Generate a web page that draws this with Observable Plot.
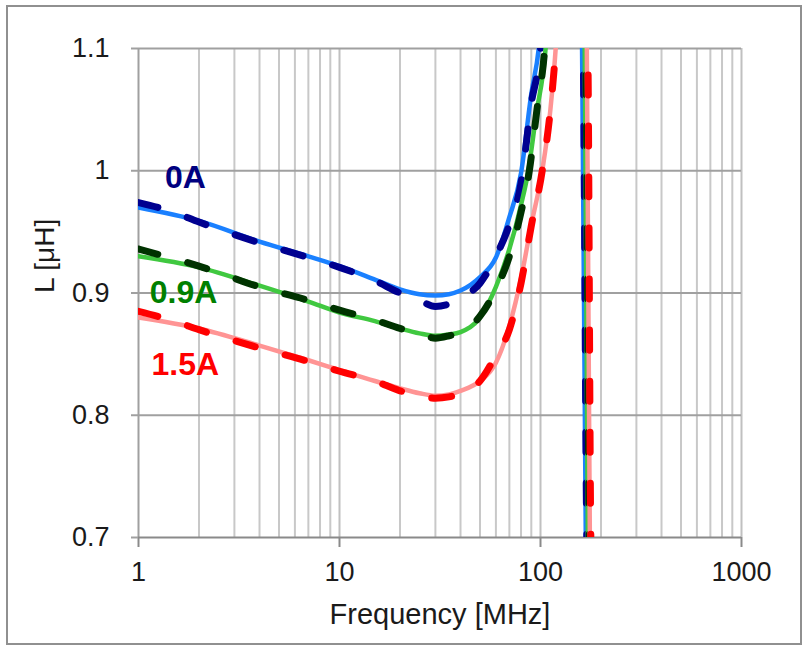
<!DOCTYPE html>
<html>
<head>
<meta charset="utf-8">
<script src="https://cdn.jsdelivr.net/npm/d3@7"></script>
<script src="https://cdn.jsdelivr.net/npm/@observablehq/plot@0.6"></script>
<style>
  body { margin: 0; background: #fff; }
  #wrap { position: relative; width: 807px; height: 649px; overflow: hidden; }
  #border { position: absolute; left: 6px; top: 5px; width: 796px; height: 640px; border: 2px solid #909090; box-sizing: border-box; }
  #chart { position: absolute; left: 0; top: 0; }
</style>
</head>
<body>
<div id="wrap"><div id="border"></div><div id="chart"></div></div>
<script>
// ---- data (frequency in MHz, inductance in uH); null splits the two branches around resonance
const f0A_solid = [1, 2, 4, 7, 10, 15, 20, 25, 30, 35, 40, 50, 60, 70, 80, 90, 98, 105, null, 160, 161, 168, 169];
const L0A_solid = [0.970, 0.959, 0.942, 0.930, 0.922, 0.911, 0.903, 0.899, 0.898, 0.899, 0.902, 0.913, 0.929, 0.962, 0.998, 1.063, 1.100, 1.16, null, 1.12, 1.10, 0.70, 0.68];

const f0A_dash = [1, 1.5, 2, 4, 7, 10, 15, 20, 25, 30, 35, 40, 50, 60, 70, 80, 90, 100, 106, null, 162, 163, 170, 171];
const L0A_dash = [0.974, 0.966, 0.958, 0.941, 0.929, 0.921, 0.910, 0.900, 0.894, 0.889, 0.891, 0.896, 0.908, 0.930, 0.956, 0.990, 1.055, 1.100, 1.16, null, 1.12, 1.10, 0.70, 0.68];

const f09A_solid = [1, 2, 4, 7, 10, 15, 20, 25, 30, 35, 40, 50, 60, 70, 80, 87, 95, 106, 112, null, 165, 166, 172, 173];
const L09A_solid = [0.930, 0.921, 0.906, 0.893, 0.884, 0.877, 0.871, 0.867, 0.865, 0.866, 0.868, 0.880, 0.905, 0.936, 0.972, 1.000, 1.045, 1.100, 1.16, null, 1.12, 1.10, 0.70, 0.68];

const f09A_dash = [1, 1.5, 2, 4, 7, 10, 15, 20, 25, 30, 35, 40, 50, 60, 70, 80, 88, 96, 105, 111, null, 167, 168, 175, 176];
const L09A_dash = [0.936, 0.928, 0.922, 0.905, 0.894, 0.886, 0.878, 0.871, 0.867, 0.863, 0.865, 0.868, 0.881, 0.903, 0.930, 0.966, 1.000, 1.050, 1.100, 1.16, null, 1.12, 1.10, 0.70, 0.68];

const f15A_solid = [1, 2, 4, 7, 10, 15, 20, 25, 30, 35, 40, 50, 60, 70, 80, 90, 102, 112, 119, 125, null, 169, 170, 176, 177];
const L15A_solid = [0.880, 0.871, 0.857, 0.845, 0.837, 0.828, 0.822, 0.818, 0.816, 0.817, 0.820, 0.828, 0.843, 0.873, 0.912, 0.956, 1.000, 1.050, 1.100, 1.16, null, 1.12, 1.10, 0.70, 0.68];

const f15A_dash = [1, 1.5, 2, 4, 7, 10, 15, 20, 25, 30, 35, 40, 50, 60, 70, 80, 90, 102, 112, 119, 125, null, 171, 172, 178, 179];
const L15A_dash = [0.885, 0.877, 0.870, 0.855, 0.844, 0.836, 0.828, 0.820, 0.816, 0.814, 0.815, 0.818, 0.828, 0.849, 0.870, 0.908, 0.955, 1.000, 1.050, 1.100, 1.16, null, 1.12, 1.10, 0.70, 0.68];

const labelText = ["0A", "0.9A", "1.5A"];
const labelFreq = [1.71, 1.675, 1.71];
const labelL = [0.994, 0.900, 0.841];
const labelColor = ["#000080", "#008000", "#ff0000"];

const xMajor = [1, 10, 100, 1000];
const xMinor = [2,3,4,5,6,7,8,9,20,30,40,50,60,70,80,90,200,300,400,500,600,700,800,900];
const yTicks = [0.7, 0.8, 0.9, 1, 1.1];

// ---- build rows
const rows = (fs, ls) => fs.map((f, i) => ({f, L: ls[i]}));
const labels = labelText.map((t, i) => ({t, f: labelFreq[i], L: labelL[i], c: labelColor[i]}));

const FONT = "'Liberation Sans', Arial, sans-serif";
const solid = (data, color) => Plot.line(data, {x: "f", y: "L", stroke: color, strokeWidth: 4.5, curve: "monotone-x", clip: true});
const dashed = (data, color) => Plot.line(data, {x: "f", y: "L", stroke: color, strokeWidth: 7, strokeDasharray: "20,31", strokeLinecap: "round", curve: "monotone-x", clip: true});

const chart = Plot.plot({
  width: 807,
  height: 649,
  marginLeft: 138,
  marginRight: 66,
  marginTop: 48,
  marginBottom: 112,
  style: {fontFamily: FONT, background: "transparent", color: "#000"},
  x: {type: "log", domain: [1, 1000], axis: null},
  y: {domain: [0.7, 1.1], axis: null},
  color: {type: "identity"},
  marks: [
    Plot.gridX(xMinor, {stroke: "#c8c8c8", strokeWidth: 2, strokeOpacity: 1}),
    Plot.gridX(xMajor.slice(1), {stroke: "#c0c0c0", strokeWidth: 2, strokeOpacity: 1}),
    Plot.gridY(yTicks.slice(1), {stroke: "#a0a0a0", strokeWidth: 2, strokeOpacity: 1}),
    Plot.ruleX([1], {stroke: "#a0a0a0", strokeWidth: 2}),
    Plot.ruleY([0.7], {stroke: "#8a8a8a", strokeWidth: 2}),
    Plot.axisX(xMajor, {tickSize: 10, tickPadding: 14, fontSize: 27, tickFormat: d => String(d), label: null, stroke: "#8a8a8a", strokeWidth: 2, fill: "#1a1a1a"}),
    Plot.axisY(yTicks, {tickSize: 7, tickPadding: 22, fontSize: 27, tickFormat: d => String(d), label: null, stroke: "#a0a0a0", strokeWidth: 2, fill: "#1a1a1a"}),
    Plot.text(["Frequency [MHz]"], {frameAnchor: "bottom", dy: 86, fontSize: 29, fill: "#1a1a1a"}),
    Plot.text(["L [μH]"], {frameAnchor: "left", dx: -93, rotate: -90, fontSize: 28, fill: "#1a1a1a"}),
    solid(rows(f0A_solid, L0A_solid), "#1a80ff"),
    dashed(rows(f0A_dash, L0A_dash), "#000090"),
    solid(rows(f09A_solid, L09A_solid), "#40c840"),
    dashed(rows(f09A_dash, L09A_dash), "#003300"),
    solid(rows(f15A_solid, L15A_solid), "#ff9494"),
    dashed(rows(f15A_dash, L15A_dash), "#ff0000"),
    Plot.text(labels, {x: "f", y: "L", text: "t", fill: "c", fontSize: 32, fontWeight: "bold"})
  ]
});
document.getElementById("chart").appendChild(chart);
</script>
</body>
</html>
